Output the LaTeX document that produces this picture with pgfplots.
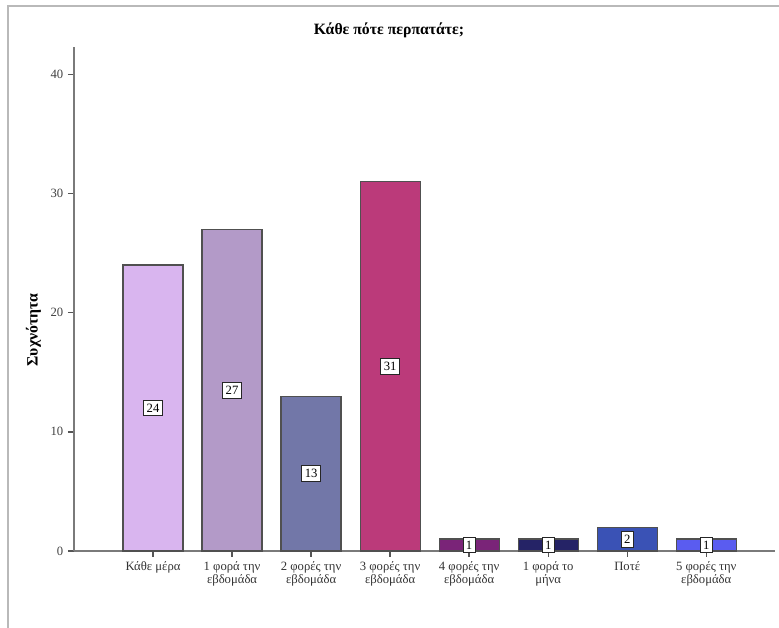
\documentclass[border=0pt]{standalone}
\usepackage{fontspec}
\setmainfont{Liberation Serif}
\usepackage{pgfplots}
\pgfplotsset{compat=1.18}

\definecolor{c1}{HTML}{D9B5EF}
\definecolor{c2}{HTML}{B39AC8}
\definecolor{c3}{HTML}{7277A8}
\definecolor{c4}{HTML}{BB3A7A}
\definecolor{c5}{HTML}{7A2478}
\definecolor{c6}{HTML}{252366}
\definecolor{c7}{HTML}{3A52B5}
\definecolor{c8}{HTML}{5A5CF0}
\definecolor{barline}{HTML}{505050}
\definecolor{axisgray}{HTML}{7A7A7A}

\pgfplotsset{
  midlabel/.style={
    nodes near coords,
    visualization depends on={rawy \as \rawy},
    nodes near coords style={
      anchor=center,
      shift={(axis direction cs:0,-\rawy/2)},
      draw=black!85, fill=white, inner xsep=2.2pt, inner ysep=2.8pt, line width=0.7pt,
      font=\fontsize{9.5}{10}\selectfont, text=black,
      /pgf/number format/assume math mode=true
    }
  },
  bar/.style={ybar, bar width=45pt, bar shift=0pt, draw=barline, line width=0.9pt, fill=#1, midlabel}
}

\begin{document}
\begin{tikzpicture}
\path[use as bounding box] (0pt,0pt) rectangle (584.25pt,471pt);
% outer frame
\draw[gray!55, line width=1.4pt] (6pt,0pt) -- (6pt,466.5pt) -- (584.25pt,466.5pt);

\begin{axis}[
  at={(55.5pt,57.75pt)}, anchor=south west, scale only axis,
  width=525.75pt, height=378pt,
  xmin=-1, xmax=7.87, ymin=0, ymax=42.3,
  axis lines*=left,
  axis line style={draw=axisgray, line width=0.9pt},
  tick align=outside, major tick length=4.5pt,
  tick style={draw=axisgray!70!black, line width=1pt},
  ytick={0,10,20,30,40},
  xtick={0,...,7},
  xticklabels={Κάθε μέρα, {1 φορά την\\εβδομάδα}, {2 φορές την\\εβδομάδα}, {3 φορές την\\εβδομάδα}, {4 φορές την\\εβδομάδα}, {1 φορά το\\μήνα}, Ποτέ, {5 φορές την\\εβδομάδα}},
  xticklabel style={align=center, font=\fontsize{9.5}{9.5}\selectfont, text=black!80},
  yticklabel style={font=\fontsize{9.5}{10}\selectfont, text=black!75},
  /pgf/number format/assume math mode=true,
  clip=false,
]
\addplot[bar=c1] coordinates {(0,24)};
\addplot[bar=c2] coordinates {(1,27)};
\addplot[bar=c3] coordinates {(2,13)};
\addplot[bar=c4] coordinates {(3,31)};
\addplot[bar=c5] coordinates {(4,1)};
\addplot[bar=c6] coordinates {(5,1)};
\addplot[bar=c7] coordinates {(6,2)};
\addplot[bar=c8] coordinates {(7,1)};
\end{axis}

\node[font=\bfseries\fontsize{11.8}{13}\selectfont] at (291.75pt,448.5pt) {Κάθε πότε περπατάτε;};
\node[font=\bfseries\fontsize{11.8}{13}\selectfont, rotate=90] at (25pt,223.5pt) {Συχνότητα};
\end{tikzpicture}
\end{document}
